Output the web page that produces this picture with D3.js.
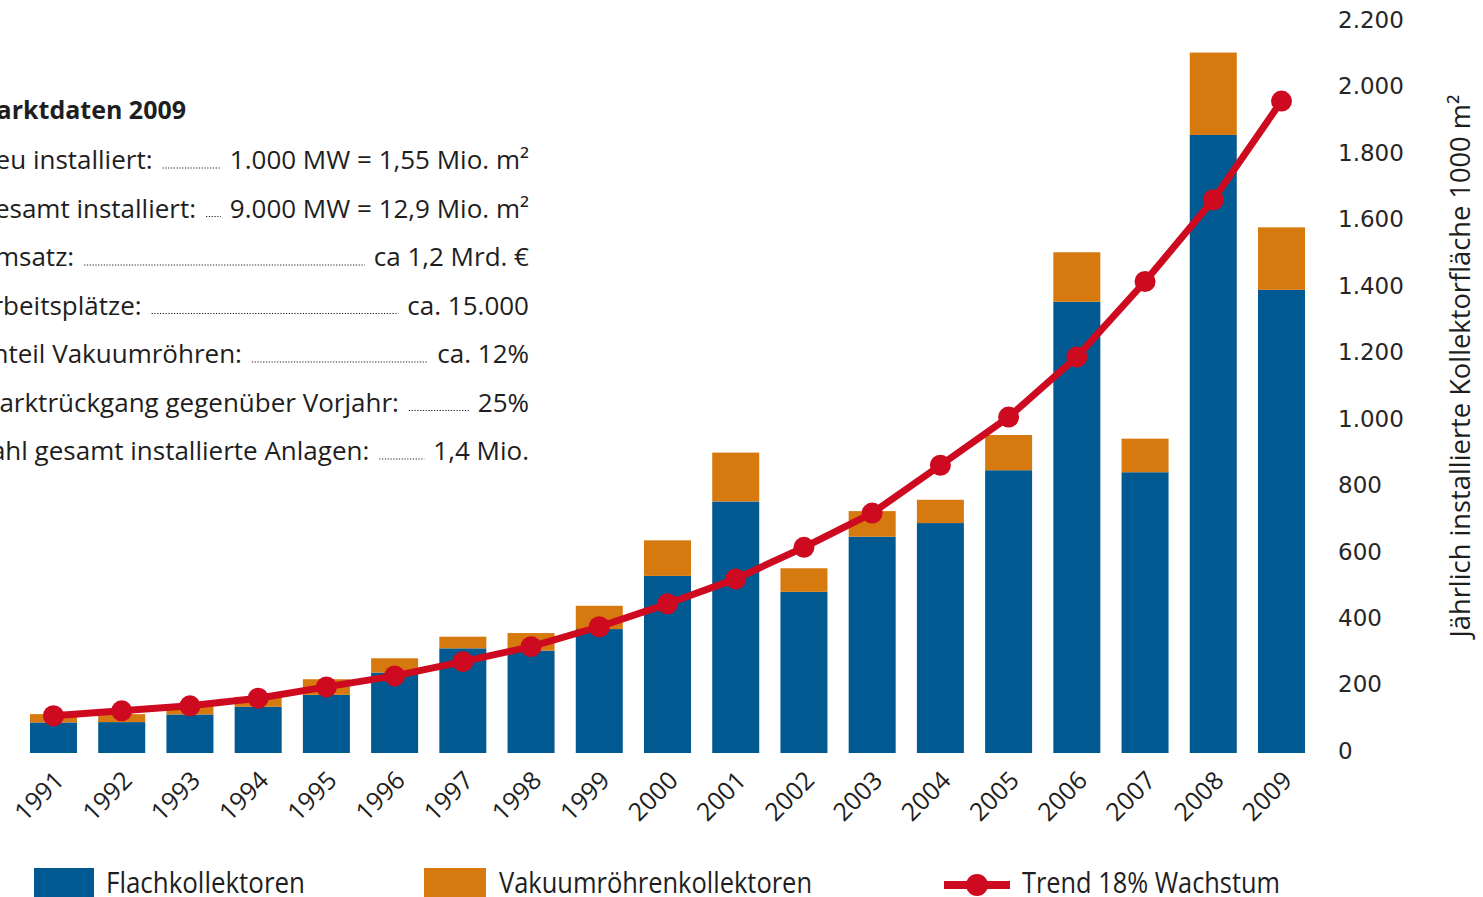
<!DOCTYPE html>
<html>
<head>
<meta charset="utf-8">
<script src="https://cdn.jsdelivr.net/npm/d3@7"></script>
<style>
  html, body { margin: 0; padding: 0; background: #fff; overflow: hidden; }
  svg { display: block; }
</style>
</head>
<body>
<svg id="chart" width="1483" height="897"></svg>
<script>
// ---- data ----
const years = ["1991","1992","1993","1994","1995","1996","1997","1998","1999","2000",
               "2001","2002","2003","2004","2005","2006","2007","2008","2009"];
const flachkollektoren = [92, 93, 116, 139, 175, 242, 315, 308, 373, 533,
                          757, 485, 651, 692, 851, 1358, 845, 1860, 1394];
const vakuumroehren =    [25, 24, 25, 30, 47, 43, 35, 53, 70, 107,
                          147, 71, 77, 70, 106, 149, 101, 248, 188];
const trend =            [112, 127, 142, 165, 199, 232, 275, 320, 380, 449,
                          524, 619, 722, 866, 1011, 1192, 1419, 1665, 1962];
const yTicks = [0, 200, 400, 600, 800, 1000, 1200, 1400, 1600, 1800, 2000, 2200];
const infoTitle = "Marktdaten 2009";
const infoLabels = ["Neu installiert:", "Gesamt installiert:", "Umsatz:", "Arbeitsplätze:",
                    "Anteil Vakuumröhren:", "Marktrückgang gegenüber Vorjahr:",
                    "Zahl gesamt installierte Anlagen:"];
const infoValues = ["1.000 MW = 1,55 Mio. m²", "9.000 MW = 12,9 Mio. m²", "ca 1,2 Mrd. €",
                    "ca. 15.000", "ca. 12%", "25%", "1,4 Mio."];
const legendLabels = ["Flachkollektoren", "Vakuumröhrenkollektoren", "Trend 18% Wachstum"];
const yTitle = "Jährlich installierte Kollektorfläche 1000 m²";

// ---- styles ----
const BLUE = "#005a91", ORANGE = "#d6790f", RED = "#cd0a1f", TEXT = "#1e1e1e";
const svg = d3.select("#chart");

const x = d3.scalePoint().domain(years).range([53.5, 1281.5]);
const barW = 47;
const y = d3.scaleLinear().domain([0, 2200]).range([753, 22]);

// bars
const data = years.map((yr, i) => ({ yr, f: flachkollektoren[i], v: vakuumroehren[i], t: trend[i] }));
const bars = svg.append("g");
bars.selectAll("rect.f").data(data).join("rect").attr("class", "f")
  .attr("x", d => x(d.yr) - barW / 2).attr("width", barW)
  .attr("y", d => y(d.f)).attr("height", d => y(0) - y(d.f))
  .attr("fill", BLUE);
bars.selectAll("rect.v").data(data).join("rect").attr("class", "v")
  .attr("x", d => x(d.yr) - barW / 2).attr("width", barW)
  .attr("y", d => y(d.f + d.v)).attr("height", d => y(d.f) - y(d.f + d.v))
  .attr("fill", ORANGE);

// trend
const line = d3.line().x(d => x(d.yr)).y(d => y(d.t));
svg.append("path").datum(data).attr("d", line)
  .attr("fill", "none").attr("stroke", RED).attr("stroke-width", 7).attr("stroke-linejoin", "round");
svg.append("g").selectAll("circle").data(data).join("circle")
  .attr("cx", d => x(d.yr)).attr("cy", d => y(d.t)).attr("r", 10.5).attr("fill", RED);

// right axis labels
const fmt = d3.formatLocale({ decimal: ",", thousands: ".", grouping: [3], currency: ["", "€"] }).format(",");
const yAxis = d3.axisRight(y).tickValues(yTicks).tickFormat(fmt).tickSize(0).tickPadding(0);
const ya = svg.append("g").attr("transform", "translate(1338,-2)").call(yAxis);
ya.select(".domain").remove();
ya.selectAll("text").attr("font-family", "DejaVu Sans").attr("font-size", 23)
  .attr("fill", "#262626").attr("text-anchor", "start");

// axis title (condensed look)
svg.append("text").attr("transform", "translate(1470,366) rotate(-90)")
  .attr("text-anchor", "middle").attr("font-family", "Open Sans")
  .attr("font-size", 27).attr("fill", TEXT)
  .attr("textLength", 543).attr("lengthAdjust", "spacingAndGlyphs").text(yTitle);

// x labels
const xl = svg.append("g");
xl.selectAll("text").data(years).join("text")
  .attr("transform", d => `translate(${x(d) + 12},782) rotate(-45)`)
  .attr("text-anchor", "end").attr("font-family", "Open Sans").attr("font-size", 25)
  .attr("fill", TEXT).text(d => d);

// info block
const info = svg.append("g").attr("font-family", "Open Sans").attr("fill", TEXT);
info.append("text").attr("x", -27).attr("y", 119).attr("font-size", 25).attr("font-weight", "bold").text(infoTitle);
infoLabels.forEach((lab, i) => {
  const by = 169 + i * 48.5;
  const l = info.append("text").attr("x", -24).attr("y", by).attr("font-size", 26).text(lab);
  const v = info.append("text").attr("x", 529).attr("y", by).attr("font-size", 26)
    .attr("text-anchor", "end").text(infoValues[i]);
  const lEnd = -24 + l.node().getComputedTextLength() + 10;
  const vStart = 529 - v.node().getComputedTextLength() - 9;
  if (vStart > lEnd) {
    info.append("line").attr("x1", lEnd).attr("x2", vStart).attr("y1", by - 1).attr("y2", by - 1)
      .attr("stroke", TEXT).attr("stroke-width", 1.2).attr("stroke-dasharray", "1.2,1.6");
  }
});

// legend
const lg = svg.append("g").attr("font-family", "Open Sans")
  .attr("font-size", 30).attr("fill", TEXT);
lg.append("rect").attr("x", 34).attr("y", 868).attr("width", 60).attr("height", 32).attr("fill", BLUE);
lg.append("text").attr("x", 106).attr("y", 893).attr("textLength", 199)
  .attr("lengthAdjust", "spacingAndGlyphs").text(legendLabels[0]);
lg.append("rect").attr("x", 424).attr("y", 868).attr("width", 62).attr("height", 32).attr("fill", ORANGE);
lg.append("text").attr("x", 499).attr("y", 893).attr("textLength", 313)
  .attr("lengthAdjust", "spacingAndGlyphs").text(legendLabels[1]);
lg.append("line").attr("x1", 944).attr("x2", 1010).attr("y1", 885).attr("y2", 885)
  .attr("stroke", RED).attr("stroke-width", 8);
lg.append("circle").attr("cx", 977).attr("cy", 885).attr("r", 11).attr("fill", RED);
lg.append("text").attr("x", 1022).attr("y", 893).attr("textLength", 258)
  .attr("lengthAdjust", "spacingAndGlyphs").text(legendLabels[2]);
</script>
</body>
</html>
